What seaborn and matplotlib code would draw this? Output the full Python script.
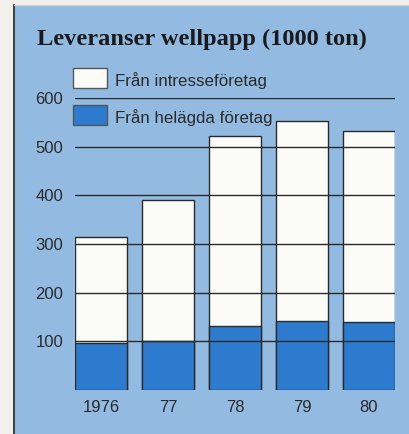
import matplotlib
matplotlib.use("Agg")
import matplotlib.pyplot as plt
import seaborn as sns
import pandas as pd
from matplotlib.patches import Rectangle

years = ["1976", "77", "78", "79", "80"]
total = [314, 390, 521, 553, 532]          # Från intresseföretag (total bar height)
owned = [97, 100, 132, 142, 140]           # Från helägda företag
yticks = [100, 200, 300, 400, 500, 600]
title = "Leveranser wellpapp (1000 ton)"
labels = ["Från intresseföretag", "Från helägda företag"]

BG = "#93bbe2"
DARK = "#2c7bcf"
WHITE = "#fbfbf8"
OUT = "#f3f1ec"
INK = "#2a2a2a"

sns.set_theme(style="white")
plt.rcParams['font.family'] = ['Liberation Sans', 'DejaVu Sans']

W, H = 409, 434
fig = plt.figure(figsize=(W / 100, H / 100), dpi=100, facecolor=OUT)

# panel background
fig.patches.append(Rectangle((14 / W, 0), 1 - 14 / W, 1 - 5 / H, transform=fig.transFigure,
                             facecolor=BG, edgecolor="none", zorder=-5))
fig.add_artist(plt.Line2D([14.5 / W, 14.5 / W], [0, 1 - 5 / H], color="#444444", lw=1.5,
                          transform=fig.transFigure, zorder=-4))
fig.add_artist(plt.Line2D([14 / W, 1], [1 - 5 / H, 1 - 5 / H], color="#cfd4d8", lw=1,
                          transform=fig.transFigure, zorder=-4))

ax = fig.add_axes([75 / W, 1 - 390 / H, 320 / W, (390 - 98) / H])
ax.set_zorder(2)
ax.set_facecolor("none")

df = pd.DataFrame({"year": years, "total": total, "owned": owned})
sns.barplot(data=df, x="year", y="total", order=years, color=WHITE, saturation=1,
            width=0.78, edgecolor=INK, linewidth=1, ax=ax)
sns.barplot(data=df, x="year", y="owned", order=years, color=DARK, saturation=1,
            width=0.78, edgecolor=INK, linewidth=1, ax=ax)

ax.set_xlim(-0.39, 4.39)
ax.set_ylim(0, 600)
ax.set_yticks(yticks)
ax.set_yticklabels([str(v) for v in yticks])
ax.set_xlabel("")
ax.set_ylabel("")
for s in ax.spines.values():
    s.set_visible(False)
ax.tick_params(axis="both", length=0, colors=INK, labelsize=12)
ax.tick_params(axis="y", pad=8.5)
ax.tick_params(axis="x", pad=7)
ax.yaxis.grid(True, color=INK, linewidth=1)
ax.set_axisbelow(False)
for gl in ax.get_ygridlines():
    gl.set_zorder(5)

# legend
for (y0, base, col, lab) in [(68, 86, WHITE, labels[0]), (105, 123, DARK, labels[1])]:
    fig.patches.append(Rectangle((73 / W, 1 - (y0 + 20) / H), 34 / W, 20 / H,
                                 transform=fig.transFigure, facecolor=col,
                                 edgecolor="#555555", lw=1, zorder=6))
    fig.text(115 / W, 1 - base / H, lab, fontsize=12.2, color=INK,
             va="baseline", ha="left", zorder=7)

fig.text(37 / W, 1 - 44.5 / H, title, fontsize=17.6, fontweight="bold",
         family=["Liberation Serif", "DejaVu Serif"], color="#1a1a1a",
         va="baseline", ha="left")

fig.savefig("out.png", dpi=100, facecolor=OUT)
